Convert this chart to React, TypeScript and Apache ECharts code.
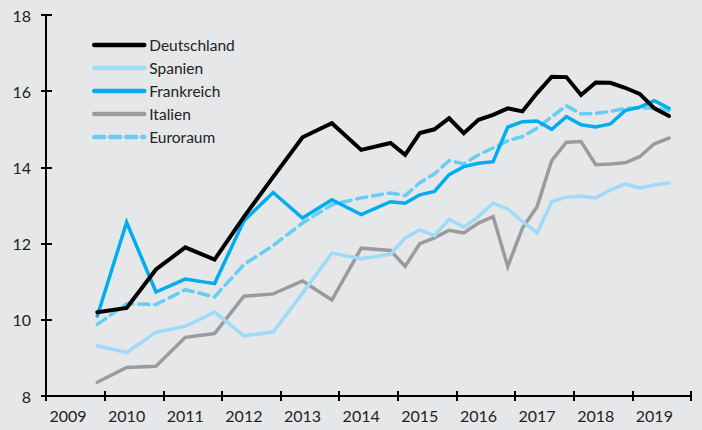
import React, { useEffect, useRef } from "react";
import * as echarts from "echarts";

const years = [2009, 2010, 2011, 2012, 2013, 2014, 2015, 2016, 2017, 2018, 2019];
const quarters: string[] = years.flatMap((y) => [1, 2, 3, 4].map((q) => `${y}Q${q}`));

const _ = null;
// index 0 = 2009Q1 ... 43 = 2019Q4 (half-yearly until 2014Q4, quarterly afterwards)
const deutschland = [
  _, _, _, 10.2, _, 10.31, _, 11.32, _, 11.9, _, 11.58, _, 12.7, _, 13.75, _, 14.79, _, 15.16, _, 14.46, _, 14.64,
  14.33, 14.9, 15.0, 15.29, 14.9, 15.25, 15.38, 15.55, 15.47, 15.95, 16.38, 16.37, 15.9, 16.23, 16.22, 16.09, 15.93, 15.55, 15.35, _,
];
const spanien = [
  _, _, _, 9.32, _, 9.14, _, 9.67, _, 9.83, _, 10.2, _, 9.58, _, 9.68, _, 10.7, _, 11.75, _, 11.6, _, 11.72,
  12.15, 12.36, 12.21, 12.64, 12.43, 12.71, 13.06, 12.91, 12.58, 12.28, 13.1, 13.22, 13.24, 13.2, 13.41, 13.56, 13.46, 13.54, 13.59, _,
];
const frankreich = [
  _, _, _, 10.1, _, 12.56, _, 10.73, _, 11.07, _, 10.95, _, 12.6, _, 13.34, _, 12.67, _, 13.15, _, 12.76, _, 13.1,
  13.06, 13.28, 13.37, 13.81, 14.02, 14.11, 14.15, 15.06, 15.2, 15.22, 15.0, 15.33, 15.12, 15.06, 15.14, 15.49, 15.58, 15.75, 15.55, _,
];
const italien = [
  _, _, _, 8.36, _, 8.75, _, 8.78, _, 9.54, _, 9.64, _, 10.62, _, 10.68, _, 11.02, _, 10.52, _, 11.88, _, 11.82,
  11.4, 12.0, 12.15, 12.35, 12.28, 12.54, 12.71, 11.4, 12.41, 12.97, 14.18, 14.66, 14.68, 14.07, 14.09, 14.12, 14.28, 14.62, 14.77, _,
];
const euroraum = [
  _, _, _, 9.88, _, 10.42, _, 10.4, _, 10.79, _, 10.6, _, 11.45, _, 11.95, _, 12.54, _, 13.02, _, 13.2, _, 13.33,
  13.26, 13.6, 13.83, 14.18, 14.09, 14.33, 14.51, 14.7, 14.81, 15.03, 15.33, 15.62, 15.4, 15.42, 15.47, 15.55, 15.56, 15.56, 15.49, _,
];

const FONT = "Lato, 'DejaVu Sans', sans-serif";
const BG = "#e6e7e8";

export default function App() {
  const ref = useRef<HTMLDivElement>(null);
  useEffect(() => {
    if (!ref.current) return;
    const chart = echarts.init(ref.current, undefined, { renderer: "svg" });
    const tickFn = (i: number) => i % 4 === 0;
    const labelFn = (i: number) => i % 4 === 1;
    const mk = (name: string, data: (number | null)[], color: string, width: number, type: any = "solid") => ({
      name,
      type: "line",
      data,
      connectNulls: true,
      symbol: "none",
      showSymbol: false,
      lineStyle: { color, width, type, cap: "round", join: "miter" },
      itemStyle: { color },
    });
    chart.setOption({
      animation: false,
      backgroundColor: BG,
      grid: { left: 46, right: 11, top: 15, bottom: 34, containLabel: false },
      legend: {
        orient: "vertical",
        left: 87,
        top: 32,
        itemWidth: 50,
        itemHeight: 14,
        itemGap: 7,
        itemStyle: { opacity: 0 },
        lineStyle: { width: 4.5 },
        textStyle: { fontFamily: FONT, fontSize: 15.5, color: "#222" },
        data: ["Deutschland", "Spanien", "Frankreich", "Italien", "Euroraum"],
      },
      xAxis: [
        {
          type: "category",
          data: quarters,
          boundaryGap: true,
          position: "bottom",
          axisLine: { show: true, lineStyle: { color: "#000", width: 2 } },
          axisTick: { show: true, interval: tickFn, length: 5, lineStyle: { color: "#000", width: 2 } },
          axisLabel: {
            interval: labelFn,
            formatter: (v: string) => v.slice(0, 4),
            margin: 11,
            fontFamily: FONT,
            fontSize: 16,
            color: "#222",
          },
          splitLine: { show: false },
        },
        {
          type: "category",
          data: quarters,
          boundaryGap: true,
          position: "bottom",
          axisLine: { show: false },
          axisTick: { show: true, inside: true, interval: tickFn, length: 5, lineStyle: { color: "#000", width: 2 } },
          axisLabel: { show: false },
          splitLine: { show: false },
        },
      ],
      yAxis: [
        {
          type: "value",
          min: 8,
          max: 18,
          interval: 2,
          position: "left",
          axisLine: { show: true, lineStyle: { color: "#000", width: 2 } },
          axisTick: { show: true, length: 5, lineStyle: { color: "#000", width: 2 } },
          axisLabel: { margin: 15, fontFamily: FONT, fontSize: 16, color: "#222" },
          splitLine: { show: false },
        },
        {
          type: "value",
          min: 8,
          max: 18,
          interval: 2,
          position: "left",
          axisLine: { show: false },
          axisTick: { show: true, inside: true, length: 6, lineStyle: { color: "#000", width: 2 } },
          axisLabel: { show: false },
          splitLine: { show: false },
        },
      ],
      series: [
        mk("Italien", italien, "#9b9b9d", 3.5),
        mk("Spanien", spanien, "#9edbf8", 3.5),
        mk("Euroraum", euroraum, "#66cdf5", 3.5, [10, 6]),
        mk("Frankreich", frankreich, "#00aeef", 3.5),
        mk("Deutschland", deutschland, "#000000", 4),
      ],
    });
    return () => chart.dispose();
  }, []);
  return (
    <div
      ref={ref}
      style={{ position: "fixed", left: 0, top: 0, width: 702, height: 430, background: BG }}
    />
  );
}
